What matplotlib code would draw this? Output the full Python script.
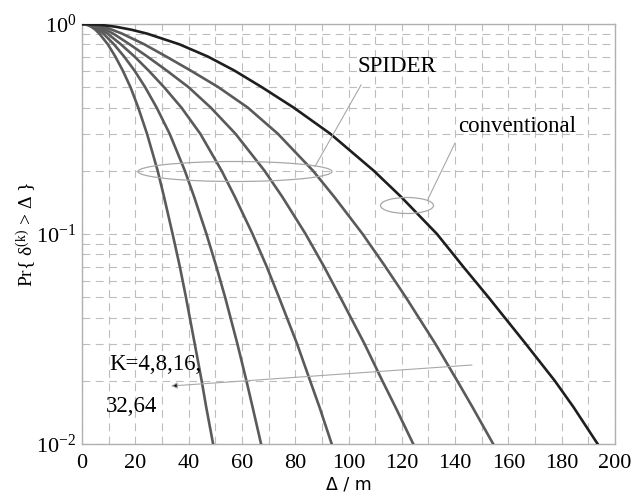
import numpy as np
import matplotlib.pyplot as plt
from matplotlib.patches import Ellipse
from matplotlib.ticker import MultipleLocator, LogLocator, FixedLocator

plt.rcParams["font.family"] = ["Liberation Serif", "DejaVu Serif"]
plt.rcParams["mathtext.fontset"] = "custom"
plt.rcParams["mathtext.rm"] = "Liberation Serif"
plt.rcParams["mathtext.it"] = "Liberation Serif"

# probability levels (y) and the distance (x) where each curve reaches them
prob = [1.0, 0.99, 0.97, 0.94, 0.9, 0.8, 0.7, 0.6, 0.5, 0.4, 0.3, 0.2,
        0.15, 0.1, 0.07, 0.05, 0.03, 0.02, 0.015, 0.01]

spider_k4 = [0, 2.0, 3.5, 5.0, 6.5, 9.7, 12.5, 15.3, 18.2, 21.1, 24.4, 28.4,
             30.8, 34.0, 36.7, 39.0, 42.3, 44.9, 46.6, 49.2]
spider_k8 = [0, 2.3, 4.1, 6.0, 8.0, 12.0, 15.8, 19.7, 23.7, 28.0, 32.9, 38.6,
             42.1, 46.7, 50.4, 53.7, 58.3, 61.7, 64.0, 67.2]
spider_k16 = [0, 2.8, 5.0, 7.2, 9.6, 14.6, 19.7, 25.0, 30.8, 37.3, 44.4, 52.4,
              57.4, 64.0, 69.3, 73.9, 80.7, 85.6, 89.1, 93.7]
spider_k32 = [0, 3.4, 6.1, 8.8, 11.7, 17.9, 24.5, 31.8, 40.0, 48.3, 57.6, 68.5,
              75.2, 83.9, 90.8, 96.9, 106.0, 112.7, 117.6, 124.3]
spider_k64 = [0, 4.3, 7.7, 11.2, 15.0, 23.4, 31.6, 40.8, 51.2, 62.2, 73.5, 86.7,
              94.7, 105.3, 113.8, 121.5, 132.6, 140.8, 146.5, 154.3]
conventional = [0, 7.2, 12.7, 18.4, 24.4, 36.6, 47.2, 57.2, 67.5, 79.4, 93.2, 109.5,
                119.8, 133.2, 143.0, 152.5, 166.5, 177.4, 184.4, 193.5]

spider = [spider_k4, spider_k8, spider_k16, spider_k32, spider_k64]

fig = plt.figure(figsize=(6.34, 5.0), dpi=100)
ax = fig.add_axes([82 / 634, 1 - 444 / 500, 533 / 634, 420 / 500])

for xs in spider:
    ax.plot(xs, prob, color="#5a5a5a", lw=1.9, solid_joinstyle="round", zorder=3)
ax.plot(conventional, prob, color="#1e1e1e", lw=1.9, solid_joinstyle="round", zorder=3)

ax.set_yscale("log")
ax.set_xlim(0, 200)
ax.set_ylim(1e-2, 1)

ax.xaxis.set_major_locator(MultipleLocator(20))
ax.xaxis.set_minor_locator(MultipleLocator(10))
ax.yaxis.set_major_locator(FixedLocator([1e-2, 1e-1, 1e0]))
ax.yaxis.set_minor_locator(LogLocator(base=10, subs=np.arange(2, 10)))
ax.set_yticklabels([r"$10^{-2}$", r"$10^{-1}$", r"$10^{0}$"])
ax.yaxis.set_minor_formatter(plt.NullFormatter())

ax.grid(True, which="both", color="#bdbdbd", lw=0.8, linestyle=(0, (7, 5)))
ax.tick_params(which="both", length=0, labelsize=16)
ax.tick_params(axis="x", pad=7)
ax.tick_params(axis="y", pad=4)
for s in ax.spines.values():
    s.set_color("#b0b0b0")
    s.set_linewidth(1.0)

ax.set_xlabel("Δ / m", family="DejaVu Sans", fontsize=12.5, labelpad=2)
ax.set_ylabel(r"Pr{ δ$^{(k)}$ > Δ }", fontsize=14, labelpad=-1)

# annotations, placed in axes fractions
def px(x, y):
    return ((x - 82) / 533, (444 - y) / 420)

ann = "#a8a8a8"
ax.add_patch(Ellipse(px(235, 171.5), 194 / 533, 20 / 420, transform=ax.transAxes,
                     fill=False, edgecolor=ann, lw=0.9, zorder=4))
ax.add_patch(Ellipse(px(407, 205.5), 53 / 533, 16 / 420, transform=ax.transAxes,
                     fill=False, edgecolor=ann, lw=0.9, zorder=4))
ax.plot(*zip(px(315, 166.5), px(361, 85)), transform=ax.transAxes, color=ann, lw=0.8, zorder=4)
ax.plot(*zip(px(428, 199), px(455, 143)), transform=ax.transAxes, color=ann, lw=0.8, zorder=4)

ax.text(*px(397, 66), "SPIDER", transform=ax.transAxes, fontsize=16.5,
        ha="center", va="center", zorder=5)
ax.text(*px(517, 126), "conventional", transform=ax.transAxes, fontsize=16.5,
        ha="center", va="center", zorder=5)
ax.text(*px(109, 364), "K=4,8,16,", transform=ax.transAxes, fontsize=16.5,
        ha="left", va="center", zorder=5)
ax.text(*px(106, 407), "32,64", transform=ax.transAxes, fontsize=16.5,
        ha="left", va="center", zorder=5)
ax.annotate("", xy=px(171, 386), xytext=px(472, 365),
            xycoords="axes fraction", textcoords="axes fraction",
            arrowprops=dict(arrowstyle="-|>", color=ann, lw=0.8,
                            mutation_scale=9, shrinkA=0, shrinkB=0,
                            fc="black", ec=ann), zorder=5)

fig.savefig("out.png", dpi=100)
